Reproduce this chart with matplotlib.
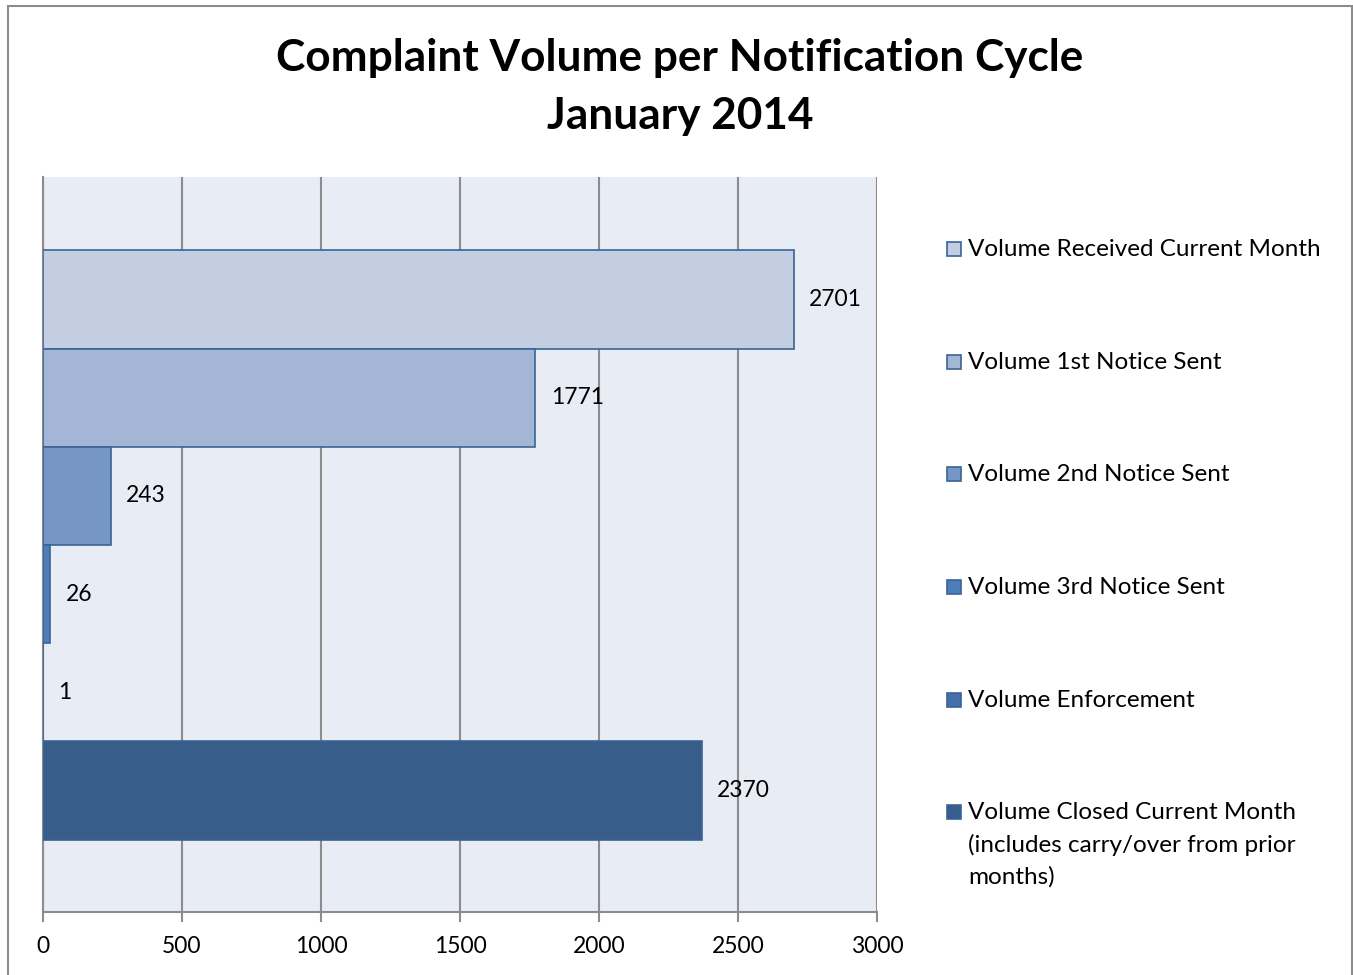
import matplotlib.pyplot as plt
from matplotlib.patches import Rectangle

# data
series = ["Volume Received Current Month", "Volume 1st Notice Sent",
          "Volume 2nd Notice Sent", "Volume 3rd Notice Sent",
          "Volume Enforcement",
          "Volume Closed Current Month\n(includes carry/over from prior\nmonths)"]
values = [2701, 1771, 243, 26, 1, 2370]
colors = ["#C3CEE2", "#A3B6D6", "#7596C6", "#4F7DBA", "#4470AE", "#385D8A"]
x_ticks = [0, 500, 1000, 1500, 2000, 2500, 3000]

plt.rcParams['font.family'] = ['Lato', 'DejaVu Sans']

fig = plt.figure(figsize=(13.53, 9.75), dpi=100)
W, H = 1353, 975

# outer chart border
fig.patches.append(Rectangle((8 / W, -0.01), 1344 / W, 1 - 6 / H + 0.01,
                             transform=fig.transFigure, fill=False,
                             edgecolor="#8C8C8C", linewidth=1.5))

ax = fig.add_axes([43 / W, 1 - 912 / H, (877 - 43) / W, (912 - 177) / H])
ax.set_facecolor("#E8ECF4")

for i, (v, c) in enumerate(zip(values, colors)):
    ax.barh(i, v, height=1, color=c, edgecolor="#3A6496", linewidth=1.2, zorder=3)
    ax.text(v + 55, i, str(v), va="center", ha="left", fontsize=16.5, zorder=4)

ax.set_xlim(0, 3000)
ax.set_ylim(6.237, -1.247)
ax.set_xticks(x_ticks)
ax.set_xticklabels([str(t) for t in x_ticks], fontsize=16.5)
ax.set_yticks([])
ax.grid(axis="x", color="#8C8C8C", linewidth=1.5, zorder=1)
for s in ["top", "right"]:
    ax.spines[s].set_visible(False)
ax.spines["left"].set_color("#8C8C8C")
ax.spines["bottom"].set_color("#8C8C8C")
ax.spines["left"].set_linewidth(1.5)
ax.spines["bottom"].set_linewidth(1.5)
ax.tick_params(axis="x", length=7, width=1.5, color="#8C8C8C", pad=10)

fig.text(680 / W, 1 - 58 / H, "Complaint Volume per Notification Cycle",
         ha="center", va="center", fontsize=31.8, fontweight="bold")
fig.text(680 / W, 1 - 116 / H, "January 2014",
         ha="center", va="center", fontsize=31.8, fontweight="bold")

# legend drawn by hand
leg_y = [249, 362, 474, 587, 700, 812]
for name, c, y in zip(series, colors, leg_y):
    fig.patches.append(Rectangle((947 / W, 1 - (y + 7) / H), 14 / W, 14 / H,
                                 transform=fig.transFigure, facecolor=c,
                                 edgecolor="#3A6496", linewidth=1.2))
    fig.text(968 / W, 1 - (y - 10) / H, name, ha="left", va="top",
             fontsize=17.5, linespacing=1.58)

fig.savefig("out.png", dpi=100)
